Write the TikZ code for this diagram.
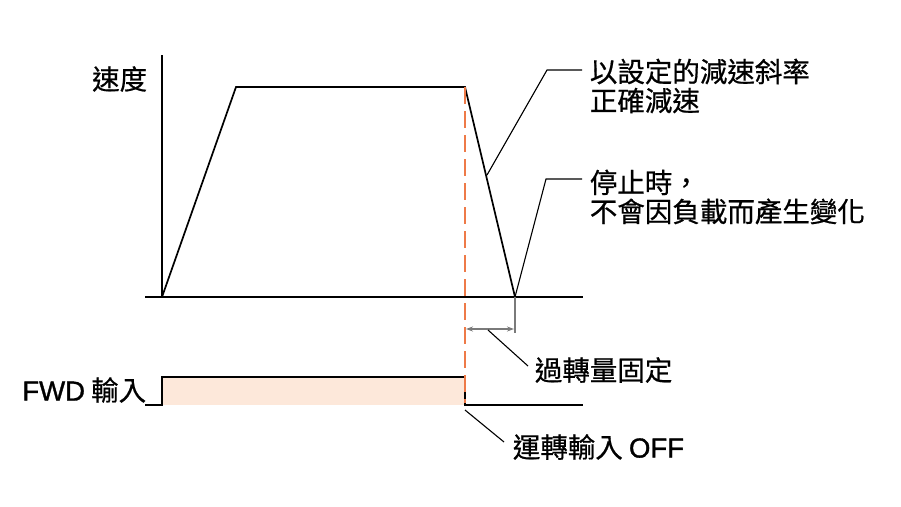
\documentclass[tikz,border=0pt]{standalone}
\usepackage{fontspec}
\setmainfont{Noto Sans CJK TC}[FakeBold=0.6]
\newfontfamily\latinfont{Liberation Sans}[FakeBold=1.2]
\usetikzlibrary{arrows.meta, positioning, calc}
\definecolor{corange}{HTML}{EE7A48}
\definecolor{cpeach}{HTML}{FDE8DA}
\definecolor{cgrey}{HTML}{7A7A7A}
\tikzset{
  every picture/.style={x=1pt, y=-1pt, line width=1.7pt},
  label/.style={font=\fontsize{27.5}{29}\selectfont, align=left, inner sep=0pt},
  lead/.style={draw=black, line width=1.1pt},
  dim/.style={{Stealth[length=7pt, width=5pt]}-{Stealth[length=7pt, width=5pt]}, draw=cgrey, line width=1.6pt},
  stopline/.style={draw=corange, line width=2.4pt, dash pattern=on 17pt off 7pt},
}

\begin{document}
\begin{tikzpicture}
  \useasboundingbox (0,0) rectangle (901,506);
  % axes
  \coordinate (top) at (162,55);
  \coordinate (org) at (162,297);
  \coordinate (ax0) at (145,297);
  \coordinate (ax1) at (583,297);
  \draw (top) -- (org);
  \draw (ax0) -- (ax1);
  % speed profile
  \coordinate (acc) at (236,87);
  \coordinate (dec) at (465,87);
  \coordinate (stop) at (515,297);
  \draw (org) -- (acc) -- (dec) -- (stop);
  % FWD signal
  \coordinate (f0) at (145,405);
  \coordinate (f1) at (162,405);
  \coordinate (f2) at (162,377);
  \coordinate (f3) at (465,377);
  \coordinate (f4) at (465,405);
  \coordinate (f5) at (583,405);
  \fill[cpeach] (f2) rectangle (f4);
  \draw (f0) -- (f1) -- (f2) -- (f3) -- (f4) -- (f5);
  % run command off
  \draw[stopline] (dec) -- ($(f4)+(0,-2)$);
  % overtravel
  \coordinate (tick) at (515,333);
  \coordinate (d0) at (466,329);
  \coordinate (d1) at (514,329);
  \draw[cgrey, line width=1.6pt] (stop) -- (tick);
  \draw[dim] (d0) -- (d1);
  % labels
  \node[label, anchor=east] (speed) at (148,79) {速度};
  \node[label, anchor=east] (fwd) at (147,390) {{\latinfont FWD} 輸入};
  \node[label, anchor=west] (ramp) at (589,86) {以設定的減速斜率\\正確減速};
  \node[label, anchor=west] (load) at (589,197) {停止時，\\不會因負載而產生變化};
  \node[label, anchor=west] (over) at (534,370) {過轉量固定};
  \node[label, anchor=west] (off) at (512,447) {運轉輸入 {\latinfont OFF}};
  % leaders
  \coordinate (r0) at (487,175);
  \coordinate (r1) at (547,70);
  \coordinate (r2) at (582,70);
  \draw[lead] (r0) -- (r1) -- (r2);
  \coordinate (l1) at (546,179);
  \coordinate (l2) at (582,179);
  \draw[lead] (stop) -- (l1) -- (l2);
  \coordinate (o0) at (488,330);
  \coordinate (o1) at (528,366);
  \draw[lead] (o0) -- (o1);
  \coordinate (n0) at (465,410);
  \coordinate (n1) at (504,442);
  \draw[lead] (n0) -- (n1);
\end{tikzpicture}
\end{document}
